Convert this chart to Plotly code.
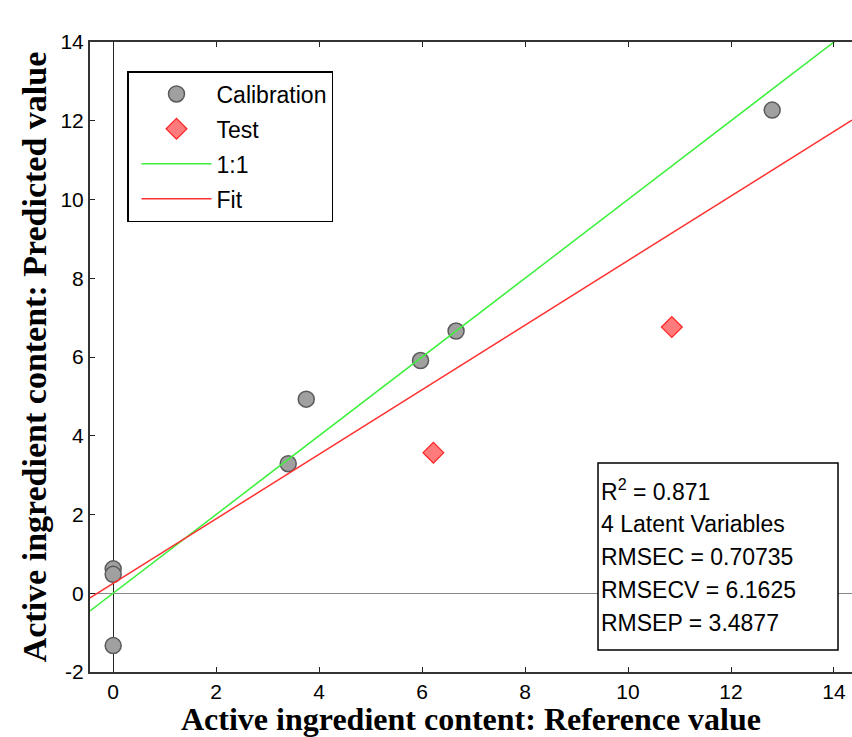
import plotly.graph_objects as go

# ---- data ----
cal_x = [0, 0, 0, 3.40, 3.75, 5.97, 6.66, 12.80]
cal_y = [0.62, 0.48, -1.33, 3.29, 4.93, 5.91, 6.66, 12.27]
test_x = [6.22, 10.85]
test_y = [3.57, 6.76]
fit_slope = 0.82
fit_intercept = 0.25
x_range = [-0.45, 14.35]
y_range = [-2, 14]
x_ticks = [0, 2, 4, 6, 8, 10, 12, 14]
y_ticks = [-2, 0, 2, 4, 6, 8, 10, 12, 14]
y_tick_labels = ["-2", "0", "2", "4", "6", "8", "10", "12", "14"]
stats_lines = ["R<sup>2</sup> = 0.871", "4 Latent Variables", "RMSEC = 0.70735",
               "RMSECV = 6.1625", "RMSEP = 3.4877"]

W, H = 852, 737
ML, MT, MR = 90, 42, 0
PH = 630
MB = H - MT - PH
PW = W - ML - MR

def px(x):  # page pixel x -> paper
    return (x - ML) / PW

def py(y):  # page pixel y -> paper
    return (MT + PH - y) / PH

SANS = "Arial, Liberation Sans, sans-serif"
SERIF = "Times New Roman, Liberation Serif, serif"

fig = go.Figure()

fig.add_trace(go.Scatter(
    x=cal_x, y=cal_y, mode="markers", name="Calibration", legendgroup="a",
    marker=dict(symbol="circle", size=16, color="#a0a0a0",
                line=dict(color="#5a5a5a", width=1.5))))
fig.add_trace(go.Scatter(
    x=test_x, y=test_y, mode="markers", name="Test", legendgroup="b",
    marker=dict(symbol="diamond", size=16, color="#ff7a7a",
                line=dict(color="#ff2020", width=1.2))))
fig.add_trace(go.Scatter(
    x=x_range, y=x_range, mode="lines", name="1:1", legendgroup="c",
    line=dict(color="#3cf03c", width=1.5)))
fig.add_trace(go.Scatter(
    x=x_range, y=[fit_slope * v + fit_intercept for v in x_range], mode="lines",
    name="Fit", legendgroup="d", line=dict(color="#ff3030", width=1.5)))

# small gap in the zero line, as in the reference
fig.add_shape(type="rect", xref="paper", yref="paper",
              x0=px(520), x1=px(539), y0=py(597), y1=py(591),
              line=dict(width=0), fillcolor="white", layer="below")

# stats box
fig.add_shape(type="rect", xref="paper", yref="paper",
              x0=px(598), x1=px(838), y0=py(650), y1=py(463),
              line=dict(color="black", width=1.5), fillcolor="white", layer="above")
line_centers = [490, 524, 557, 590, 623]
for txt, yc in zip(stats_lines, line_centers):
    fig.add_annotation(xref="paper", yref="paper", x=px(599), y=py(yc),
                       xanchor="left", yanchor="middle", text=txt, showarrow=False,
                       font=dict(family=SANS, size=23, color="black"))

fig.update_layout(
    width=W, height=H,
    margin=dict(l=ML, r=MR, t=MT, b=MB, autoexpand=False),
    paper_bgcolor="white", plot_bgcolor="white",
    showlegend=True,
    legend=dict(x=px(127), y=py(71), xanchor="left", yanchor="top",
                bgcolor="white", bordercolor="black", borderwidth=1.5,
                font=dict(family=SANS, size=23, color="black"),
                itemwidth=70, tracegroupgap=2, traceorder="grouped",
                indentation=8),
    xaxis=dict(range=x_range, tickvals=x_ticks, ticks="inside", ticklen=5,
               tickcolor="#222", showline=True, linecolor="#333", linewidth=2,
               mirror="ticks", showgrid=False, zeroline=True, zerolinecolor="#222",
               zerolinewidth=1, automargin=False,
               tickfont=dict(family=SANS, size=21, color="black"),
               title=dict(text="<b>Active ingredient content: Reference value</b>",
                          font=dict(family=SERIF, size=32, color="black"), standoff=1)),
    yaxis=dict(range=y_range, tickvals=y_ticks, ticktext=y_tick_labels,
               ticks="inside", ticklen=5,
               tickcolor="#222", showline=True, linecolor="#333", linewidth=2,
               mirror=False, showgrid=False, zeroline=True, zerolinecolor="#888",
               zerolinewidth=1, automargin=False,
               tickfont=dict(family=SANS, size=21, color="black"),
               title=dict(text="<b>Active ingredient content: Predicted value</b>",
                          font=dict(family=SERIF, size=34, color="black"), standoff=4)),
)

fig.write_html(
    "out.html",
    config={"displayModeBar": False},
    post_script=("document.documentElement.style.margin='0';"
                 "document.documentElement.style.overflow='hidden';"
                 "document.body.style.margin='0';"
                 "document.body.style.overflow='hidden';"),
)
